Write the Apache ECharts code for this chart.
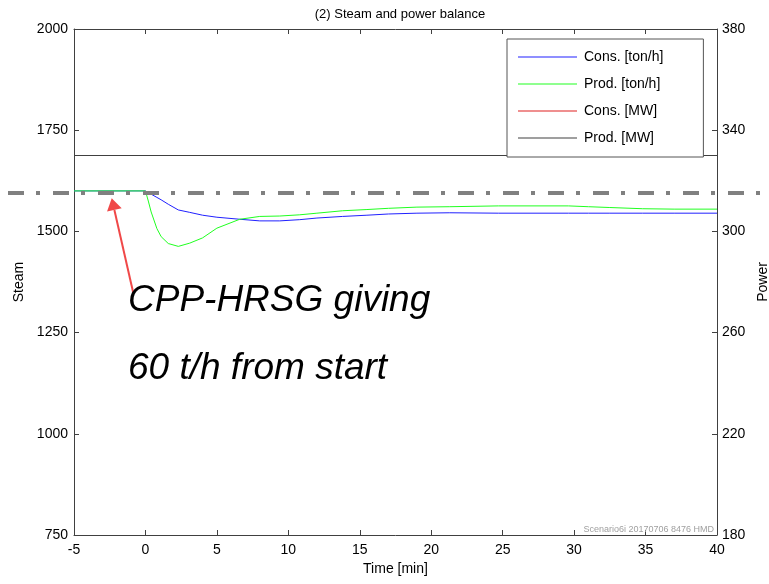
<!DOCTYPE html>
<html><head><meta charset="utf-8">
<script src="https://cdn.jsdelivr.net/npm/echarts@6/dist/echarts.min.js"></script>
<style>html,body{margin:0;padding:0;background:#fff}#c{width:769px;height:584px}</style>
</head><body><div id="c"></div>
<script>
// ---- data ----
const timeMin   = [-5, 0, 0.2, 0.4, 0.8, 1.1, 1.6, 2.3, 3.1, 4, 5, 6.6, 8, 9.4, 10.8, 12, 13.8, 15.5, 17, 19, 21.3, 24.7, 29.6, 31, 32.5, 34.8, 37, 40];
const steamCons = [1600, 1600, 1596, 1592, 1584, 1578, 1567, 1553, 1547, 1540, 1535, 1530, 1526, 1526, 1529, 1533, 1537, 1540, 1543, 1545, 1546, 1545, 1545, 1545, 1545, 1545, 1545, 1545];
const steamProd = [1600, 1600, 1575, 1548, 1507, 1487, 1470, 1463, 1471, 1484, 1508, 1530, 1537, 1538, 1541, 1545, 1551, 1554, 1557, 1560, 1561, 1563, 1563, 1561, 1559, 1556, 1555, 1555];
const powerTime = [-5, 0, 40];
const powerCons = [330, 330, 330];
const powerProd = [330, 330, 330];
const steamTicks = [750, 1000, 1250, 1500, 1750, 2000];
const powerTicks = [180, 220, 260, 300, 340, 380];
const seriesNames = ['Cons. [ton/h]', 'Prod. [ton/h]', 'Cons. [MW]', 'Prod. [MW]'];
const titleText = '(2) Steam and power balance';
const noteLines = ['CPP-HRSG giving', '60 t/h from start'];
const watermark = 'Scenario6i 20170706 8476 HMD';
const refSteamLevel = 1595;

const FONT = 'Liberation Sans, Arial, Helvetica, sans-serif';
const AX = '#404040';
const zip = (xs, ys) => xs.map((x, i) => [x, ys[i]]);
const plain = v => String(v);

const chart = echarts.init(document.getElementById('c'), null, {renderer: 'canvas'});
const axisCommon = {
  axisLine: {show: true, onZero: false, lineStyle: {color: AX, width: 1}},
  axisTick: {show: true, inside: true, length: 5, lineStyle: {color: AX}},
  splitLine: {show: false},
  axisLabel: {color: '#000', fontSize: 14, fontFamily: FONT, formatter: plain},
  nameTextStyle: {color: '#000', fontSize: 14, fontFamily: FONT}
};
chart.setOption({
  animation: false,
  backgroundColor: '#fff',
  textStyle: {fontFamily: FONT},
  title: {text: titleText, left: 395, top: 3, textAlign: 'center',
    textStyle: {fontSize: 13, fontWeight: 'normal', color: '#000', fontFamily: FONT}},
  grid: {left: 74, right: 52, top: 29, bottom: 49, containLabel: false, outerBoundsMode: 'none'},
  legend: {
    data: seriesNames, orient: 'vertical', left: 507, top: 39,
    icon: 'rect', itemWidth: 59, itemHeight: 1, itemGap: 13,
    padding: [11, 40, 12, 11],
    backgroundColor: '#fff', borderColor: '#555', borderWidth: 1,
    textStyle: {fontSize: 14, color: '#000', fontFamily: FONT, padding: [0, 0, 0, 2], lineHeight: 14},
    z: 10
  },
  xAxis: [
    Object.assign({}, axisCommon, {type: 'value', min: -5, max: 40, interval: 5, position: 'bottom',
      name: 'Time [min]', nameLocation: 'middle', nameGap: 22,
      axisLabel: Object.assign({}, axisCommon.axisLabel, {margin: 8})}),
    Object.assign({}, axisCommon, {type: 'value', min: -5, max: 40, interval: 5, position: 'top',
      axisLabel: {show: false}})
  ],
  yAxis: [
    Object.assign({}, axisCommon, {type: 'value', min: 750, max: 2000, interval: 250, position: 'left',
      name: 'Steam', nameLocation: 'middle', nameGap: 40,
      axisLabel: Object.assign({}, axisCommon.axisLabel, {margin: 6})}),
    Object.assign({}, axisCommon, {type: 'value', min: 180, max: 380, position: 'right',
      name: 'Power', nameLocation: 'middle', nameGap: 34,
      axisTick: Object.assign({}, axisCommon.axisTick, {customValues: powerTicks}),
      axisLabel: Object.assign({}, axisCommon.axisLabel, {margin: 5, customValues: powerTicks})})
  ],
  series: [
    {name: seriesNames[0], type: 'line', xAxisIndex: 0, yAxisIndex: 0, data: zip(timeMin, steamCons),
      symbol: 'none', color: '#2020ff', lineStyle: {width: 1, color: '#2020ff'}},
    {name: seriesNames[1], type: 'line', xAxisIndex: 0, yAxisIndex: 0, data: zip(timeMin, steamProd),
      symbol: 'none', color: '#20ff20', lineStyle: {width: 1, color: '#20ff20'}},
    {name: seriesNames[2], type: 'line', xAxisIndex: 0, yAxisIndex: 1, data: zip(powerTime, powerCons),
      symbol: 'none', color: '#e02020', lineStyle: {width: 1, color: '#e02020'}, z: 1},
    {name: seriesNames[3], type: 'line', xAxisIndex: 0, yAxisIndex: 1, data: zip(powerTime, powerProd),
      symbol: 'none', color: '#404040', lineStyle: {width: 1.2, color: '#404040'}, z: 3}
  ]
});

// ---- annotations anchored on the axes ----
const px = (t, s) => chart.convertToPixel({xAxisIndex: 0, yAxisIndex: 0}, [t, s]);
const yDash = px(0, refSteamLevel)[1];
const tip = px(-2.36, 1582);
const tail = px(-0.85, 1348);
const dx = tip[0] - tail[0], dy = tip[1] - tail[1];
const L = Math.hypot(dx, dy), ux = dx / L, uy = dy / L;
const headLen = 12, headHalf = 7.5;
const bx = tip[0] - ux * headLen, by = tip[1] - uy * headLen;
const nx = -uy, ny = ux;

chart.setOption({
  graphic: [
    {type: 'line', z: 50, shape: {x1: 8, y1: yDash, x2: 769, y2: yDash},
      style: {stroke: '#808080', lineWidth: 4, lineDash: [16, 12, 4, 13]}},
    {type: 'line', z: 50, shape: {x1: tail[0], y1: tail[1], x2: bx, y2: by},
      style: {stroke: '#f04848', lineWidth: 2}},
    {type: 'polygon', z: 50, shape: {points: [tip, [bx + nx * headHalf, by + ny * headHalf], [bx - nx * headHalf, by - ny * headHalf]]},
      style: {fill: '#f04848'}},
    {type: 'text', z: 50, left: 128, top: 282,
      style: {text: noteLines[0], font: 'italic 37px ' + FONT, fill: '#000'}},
    {type: 'text', z: 50, left: 128, top: 350,
      style: {text: noteLines[1], font: 'italic 37px ' + FONT, fill: '#000'}},
    {type: 'text', z: 1, right: 55, bottom: 50,
      style: {text: watermark, font: '9px ' + FONT, fill: '#a0a0a0'}}
  ]
});
</script>
</body></html>
